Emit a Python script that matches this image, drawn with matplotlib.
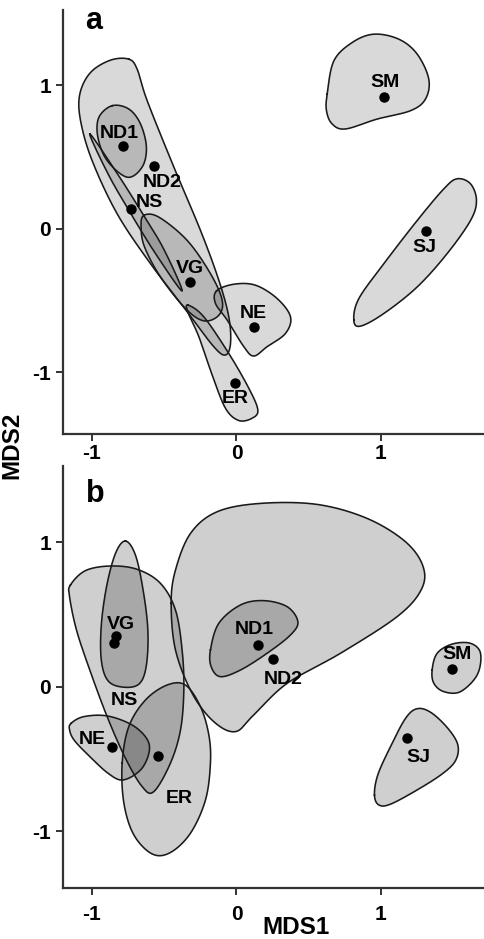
import numpy as np
import matplotlib
matplotlib.use('Agg')
import matplotlib.pyplot as plt

plt.rcParams['font.family'] = ['Liberation Sans', 'DejaVu Sans']
plt.rcParams['font.weight'] = 'bold'
plt.rcParams['axes.unicode_minus'] = False

# sample positions (MDS1, MDS2) per panel
sites_a = ['ND1', 'ND2', 'NS', 'VG', 'NE', 'ER', 'SM', 'SJ']
mds1_a = [-0.784, -0.572, -0.727, -0.323, 0.120, -0.007, 1.024, 1.315]
mds2_a = [0.578, 0.435, 0.134, -0.371, -0.683, -1.072, 0.914, -0.017]
label_x_a = [-0.81, -0.516, -0.60, -0.323, 0.12, -0.007, 1.03, 1.30]
label_y_a = [0.66, 0.324, 0.185, -0.278, -0.59, -1.18, 1.02, -0.128]

sites_b = ['VG', 'NS', 'ND1', 'ND2', 'SM', 'SJ', 'NE', 'ER']
mds1_b = [-0.837, -0.844, 0.148, 0.252, 1.493, 1.181, -0.860, -0.542]
mds2_b = [0.352, 0.301, 0.290, 0.193, 0.123, -0.357, -0.415, -0.480]
label_x_b = [-0.798, -0.779, 0.125, 0.321, 1.523, 1.262, -0.999, -0.399]
label_y_b = [0.435, -0.092, 0.398, 0.047, 0.225, -0.489, -0.364, -0.773]

# group envelopes, traced as outline vertices (MDS1, MDS2)
hulls_a = [
    [(-0.745, 1.180), (-0.872, 1.173), (-1.010, 1.087), (-1.084, 0.937), (-1.079, 0.752),
     (-0.999, 0.474), (-0.826, 0.104), (-0.595, -0.244), (-0.341, -0.579), (-0.157, -0.822),
     (-0.076, -0.880), (-0.041, -0.799), (-0.053, -0.614), (-0.122, -0.359), (-0.249, -0.012),
     (-0.433, 0.428), (-0.618, 0.891), (-0.687, 1.110)],
    [(-0.860, 0.856), (-0.952, 0.775), (-0.959, 0.636), (-0.895, 0.474), (-0.756, 0.358),
     (-0.653, 0.428), (-0.623, 0.566), (-0.664, 0.729), (-0.745, 0.833)],
    [(-1.015, 0.659), (-0.840, 0.407), (-0.672, 0.141), (-0.506, -0.137), (-0.376, -0.434),
     (-0.555, -0.182), (-0.726, 0.096), (-0.885, 0.374)],
    [(-0.641, 0.092), (-0.537, 0.080), (-0.341, -0.082), (-0.180, -0.313), (-0.099, -0.498),
     (-0.122, -0.603), (-0.226, -0.642), (-0.353, -0.556), (-0.526, -0.336), (-0.636, -0.128),
     (-0.660, 0.011)],
    [(-0.138, -0.434), (-0.018, -0.387), (0.132, -0.394), (0.282, -0.487), (0.374, -0.614),
     (0.339, -0.730), (0.212, -0.822), (0.120, -0.887), (0.051, -0.822), (-0.064, -0.637),
     (-0.145, -0.521)],
    [(-0.334, -0.533), (-0.226, -0.614), (-0.053, -0.869), (0.086, -1.112), (0.148, -1.262),
     (0.109, -1.320), (0.016, -1.336), (-0.076, -1.251), (-0.168, -1.019), (-0.260, -0.753),
     (-0.337, -0.579)],
    [(0.628, 0.937), (0.674, 1.168), (0.801, 1.296), (0.951, 1.354), (1.124, 1.319),
     (1.251, 1.215), (1.331, 1.041), (1.308, 0.902), (1.204, 0.821), (0.974, 0.763),
     (0.755, 0.694), (0.662, 0.729), (0.623, 0.821)],
    [(0.812, -0.637), (0.847, -0.487), (1.020, -0.244), (1.251, 0.057), (1.435, 0.277),
     (1.527, 0.347), (1.620, 0.312), (1.661, 0.196), (1.620, 0.057), (1.458, -0.174),
     (1.251, -0.406), (1.020, -0.591), (0.858, -0.679)],
]

hulls_b = [
    [(-0.452, 0.578), (-0.422, 0.809), (-0.318, 1.063), (-0.134, 1.213), (0.166, 1.271),
     (0.558, 1.264), (0.904, 1.167), (1.170, 1.005), (1.292, 0.832), (1.278, 0.671),
     (1.112, 0.486), (0.720, 0.232), (0.351, 0.024), (0.120, -0.195), (-0.007, -0.311),
     (-0.157, -0.242), (-0.307, -0.045), (-0.422, 0.255)],
    [(-0.180, 0.255), (-0.122, 0.440), (0.028, 0.567), (0.189, 0.597), (0.351, 0.555),
     (0.425, 0.451), (0.374, 0.359), (0.212, 0.232), (0.028, 0.116), (-0.111, 0.070),
     (-0.175, 0.139)],
    [(-1.149, 0.705), (-1.045, 0.805), (-0.872, 0.837), (-0.687, 0.814), (-0.526, 0.717),
     (-0.422, 0.532), (-0.376, 0.255), (-0.364, -0.022), (-0.387, -0.299), (-0.457, -0.530),
     (-0.572, -0.727), (-0.653, -0.692), (-0.768, -0.496), (-0.895, -0.207), (-1.015, 0.116),
     (-1.107, 0.393), (-1.155, 0.624)],
    [(-0.768, 1.010), (-0.699, 0.913), (-0.646, 0.671), (-0.613, 0.393), (-0.623, 0.151),
     (-0.669, 0.024), (-0.768, -0.004), (-0.883, 0.035), (-0.934, 0.174), (-0.936, 0.417),
     (-0.899, 0.694), (-0.837, 0.925)],
    [(-1.144, -0.253), (-1.056, -0.207), (-0.895, -0.202), (-0.722, -0.265), (-0.618, -0.364),
     (-0.606, -0.461), (-0.664, -0.577), (-0.784, -0.646), (-0.883, -0.604), (-1.010, -0.489),
     (-1.121, -0.373), (-1.155, -0.299)],
    [(-0.791, -0.530), (-0.745, -0.276), (-0.630, -0.092), (-0.480, 0.012), (-0.353, 0.012),
     (-0.249, -0.138), (-0.191, -0.334), (-0.180, -0.530), (-0.214, -0.784), (-0.318, -1.015),
     (-0.457, -1.149), (-0.583, -1.159), (-0.710, -1.027), (-0.779, -0.807)],
    [(1.354, 0.116), (1.389, 0.232), (1.493, 0.296), (1.620, 0.301), (1.689, 0.232),
     (1.666, 0.082), (1.550, -0.034), (1.435, -0.034), (1.366, 0.024)],
    [(0.955, -0.750), (0.978, -0.611), (1.066, -0.415), (1.170, -0.219), (1.251, -0.152),
     (1.347, -0.179), (1.463, -0.288), (1.532, -0.403), (1.516, -0.512), (1.424, -0.604),
     (1.251, -0.715), (1.066, -0.814), (0.985, -0.819)],
]


def smooth_closed(pts, n=40):
    # closed Catmull-Rom curve through the outline vertices
    P = np.asarray(pts, dtype=float)
    m = len(P)
    t = np.linspace(0, 1, n, endpoint=False)[:, None]
    segs = []
    for i in range(m):
        p0, p1, p2, p3 = P[i - 1], P[i], P[(i + 1) % m], P[(i + 2) % m]
        segs.append(0.5 * (2 * p1 + (-p0 + p2) * t
                           + (2 * p0 - 5 * p1 + 4 * p2 - p3) * t ** 2
                           + (-p0 + 3 * p1 - 3 * p2 + p3) * t ** 3))
    out = np.vstack(segs)
    return np.vstack([out, out[:1]])


def draw_panel(ax, hulls, xs, ys, names, lx, ly, alpha):
    curves = [smooth_closed(h) for h in hulls]
    for c in curves:
        ax.fill(c[:, 0], c[:, 1], color='black', alpha=alpha, lw=0, zorder=1)
    for c in curves:
        ax.plot(c[:, 0], c[:, 1], color='#1a1a1a', lw=1.15, zorder=2)
    ax.plot(xs, ys, 'o', color='black', ms=6.5, zorder=3)
    for name, x, y in zip(names, lx, ly):
        ax.text(x, y, name, ha='center', va='center', fontsize=14,
                fontweight='bold', zorder=4)
    ax.set_xlim(-1.2, 1.72)
    ax.set_xticks([-1, 0, 1])
    ax.set_yticks([-1, 0, 1])
    for s in ['top', 'right']:
        ax.spines[s].set_visible(False)
    for s in ['left', 'bottom']:
        ax.spines[s].set_linewidth(1.6)
        ax.spines[s].set_color('#333333')
    ax.tick_params(width=1.4, length=5, labelsize=15, color='#333333')
    for lab in ax.get_xticklabels() + ax.get_yticklabels():
        lab.set_fontweight('bold')


fig = plt.figure(figsize=(4.85, 9.39), dpi=100)
ax_a = fig.add_axes([0.130, 0.5378, 0.870, 0.4512])
ax_b = fig.add_axes([0.130, 0.0543, 0.870, 0.4494])

draw_panel(ax_a, hulls_a, mds1_a, mds2_a, sites_a, label_x_a, label_y_a, 0.15)
draw_panel(ax_b, hulls_b, mds1_b, mds2_b, sites_b, label_x_b, label_y_b, 0.19)

ax_a.text(0.052, 0.955, 'a', transform=ax_a.transAxes, fontsize=22,
          fontweight='bold', va='baseline', ha='left')
ax_b.text(0.055, 0.915, 'b', transform=ax_b.transAxes, fontsize=22,
          fontweight='bold', va='baseline', ha='left')

ax_a.set_ylim(-1.43, 1.52)
ax_b.set_ylim(-1.395, 1.53)
ax_a.tick_params(axis='x', pad=2)
ax_b.tick_params(axis='x', pad=7)

fig.text(0.61, 0.0125, 'MDS1', ha='center', va='center',
         fontsize=17.5, fontweight='bold')
fig.text(0.024, 0.526, 'MDS2', rotation=90, ha='center', va='center',
         fontsize=17.5, fontweight='bold')

fig.savefig('out.png', dpi=100)
